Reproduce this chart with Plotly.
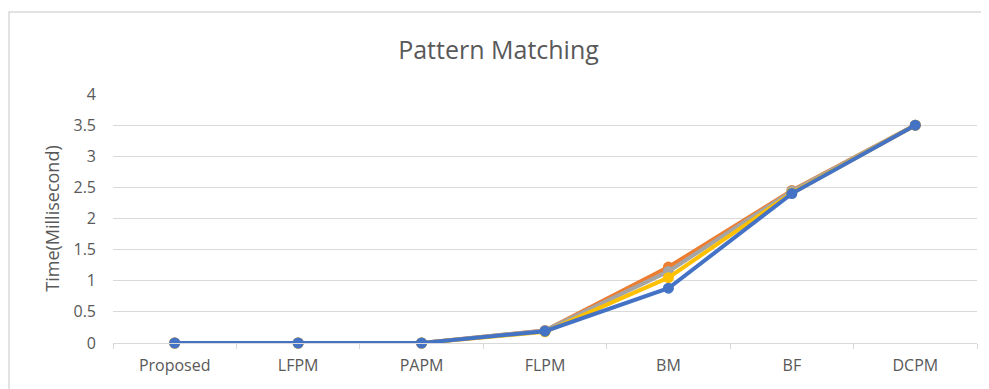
import plotly.graph_objects as go

categories = ["Proposed", "LFPM", "PAPM", "FLPM", "BM", "BF", "DCPM"]
series_orange = [0.0, 0.0, 0.0, 0.2, 1.22, 2.45, 3.5]
series_gray = [0.0, 0.0, 0.0, 0.2, 1.15, 2.44, 3.5]
series_yellow = [0.0, 0.0, 0.0, 0.18, 1.05, 2.41, 3.5]
series_blue = [0.0, 0.0, 0.0, 0.19, 0.88, 2.40, 3.5]
y_ticks = [0, 0.5, 1, 1.5, 2, 2.5, 3, 3.5, 4]
y_tick_text = ["0", "0.5", "1", "1.5", "2", "2.5", "3", "3.5", "4"]

font_family = "Open Sans, Liberation Sans, Arial, sans-serif"

W, H = 981, 381
L, R, T, B = 105, 12, 86, 46
PW, PH = W - L - R, H - T - B

fig = go.Figure()
for name, vals, color in [
    ("Series 2", series_orange, "#ED7D31"),
    ("Series 3", series_gray, "#A5A5A5"),
    ("Series 4", series_yellow, "#FFC000"),
    ("Series 1", series_blue, "#4472C4"),
]:
    fig.add_trace(go.Scatter(
        x=categories, y=vals, name=name, mode="lines+markers",
        line=dict(color=color, width=4),
        marker=dict(color=color, size=11, symbol="circle"),
        cliponaxis=False,
    ))

fig.update_layout(
    width=W, height=H,
    margin=dict(l=L, r=R, t=T, b=B),
    paper_bgcolor="white", plot_bgcolor="white",
    showlegend=False,
    title=dict(text="Pattern Matching", x=0.5, xanchor="center",
               y=1 - 42 / H, yanchor="middle",
               font=dict(family=font_family, size=25, color="#595959")),
    font=dict(family=font_family, color="#595959", size=16),
)
fig.update_xaxes(
    type="category", showgrid=False, showline=True, linecolor="#d9d9d9", linewidth=1,
    ticks="outside", tickson="boundaries", ticklen=5, tickcolor="#d9d9d9",
    ticklabelstandoff=8,
    tickfont=dict(size=16, color="#595959"), range=[-0.5, 6.5],
)
fig.update_yaxes(
    range=[0, 4], tickvals=y_ticks, ticktext=y_tick_text,
    showgrid=True, gridcolor="#d9d9d9", gridwidth=1, zeroline=False,
    showline=False, ticks="", ticklabelstandoff=16,
    tickfont=dict(size=16, color="#595959"),
    title=dict(text="Time(Millisecond)", font=dict(size=18, color="#595959"), standoff=9),
)
fig.add_shape(type="rect", xref="paper", yref="paper",
              x0=(1 - L) / PW, x1=1.05, y0=-0.4, y1=(PH + T - 4) / PH,
              line=dict(color="#d9d9d9", width=1.5), fillcolor="rgba(0,0,0,0)", layer="below")
fig.write_html("out.html")
